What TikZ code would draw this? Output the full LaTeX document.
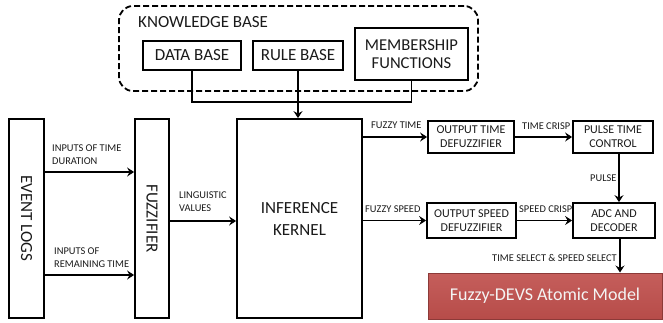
\documentclass[tikz,border=0pt]{standalone}
\usepackage{fontspec}
\setmainfont{Carlito}
\usetikzlibrary{arrows.meta}
\definecolor{devsred}{HTML}{C0504D}
\definecolor{devsedge}{HTML}{8C3A38}
\definecolor{devstxt}{HTML}{F4F4F4}
\definecolor{inkgray}{HTML}{1A1A1A}
\begin{document}
\begin{tikzpicture}[x=1pt,y=-1pt,
  box/.style={draw=black,line width=1.8pt,inner sep=0pt,align=center,text=inkgray},
  big/.style={font=\fontsize{17}{19}\selectfont},
  mid/.style={font=\fontsize{12}{14}\selectfont},
  lab/.style={font=\fontsize{10.4}{13}\selectfont,inner sep=0pt,align=left,text=inkgray},
  ln/.style={line width=1.8pt},
  arr/.style={line width=1.8pt,-{Stealth[length=7pt,width=9pt,inset=2.5pt]}}]
\useasboundingbox (0,0) rectangle (663,322);
% knowledge base
\node[draw=black,line width=1.8pt,dash pattern=on 6pt off 3pt,rounded corners=14pt,
      minimum width=359pt,minimum height=85pt,inner sep=0pt] (kb) at (298.5,48.5) {};
\node[big,anchor=west,inner sep=0pt,text=inkgray] (kbt) at (138,22) {KNOWLEDGE BASE};
\node[box,big,minimum width=98pt,minimum height=29pt] (db) at (192,55.5) {DATA BASE};
\node[box,big,minimum width=90pt,minimum height=29pt] (rb) at (298,55.5) {RULE BASE};
\node[box,big,minimum width=113pt,minimum height=52pt,font=\fontsize{16.6}{18}\selectfont] (mf) at (411.5,54) {MEMBERSHIP\\FUNCTIONS};
% main blocks
\node[box,minimum width=35pt,minimum height=199pt] (el) at (26.5,218.5) {};
\node[big,rotate=-90,text=inkgray] (elt) at (el.center) {EVENT LOGS};
\node[box,minimum width=34pt,minimum height=199pt] (fz) at (152,218.5) {};
\node[big,rotate=-90,text=inkgray] (fzt) at (fz.center) {FUZZIFIER};
\node[box,big,minimum width=125pt,minimum height=199pt,font=\fontsize{17}{22}\selectfont] (ik) at (299.5,218.5) {INFERENCE\\KERNEL};
\node[box,mid,minimum width=86pt,minimum height=32pt] (otd) at (471,137) {OUTPUT TIME\\DEFUZZIFIER};
\node[box,mid,minimum width=80pt,minimum height=32pt] (ptc) at (613,137) {PULSE TIME\\CONTROL};
\node[box,mid,minimum width=89pt,minimum height=35pt] (osd) at (471.5,220.5) {OUTPUT SPEED\\DEFUZZIFIER};
\node[box,mid,minimum width=82pt,minimum height=35pt] (adc) at (614,220.5) {ADC AND\\DECODER};
\node[draw=devsedge,line width=1pt,top color=devsred!92!white,bottom color=devsred!95!black,text=devstxt,
      minimum width=234pt,minimum height=46pt,inner sep=0pt,font=\fontsize{18}{20}\selectfont] (fd) at (545,296) {Fuzzy-DEVS Atomic Model};
% knowledge base connectors
\draw[ln] (db.south) -- ++(0,31) -| (mf.south);
\draw[arr] (rb.south) -- (rb.south |- ik.north);
% event logs to fuzzifier
\coordinate (y1) at (0,172);
\coordinate (y2) at (0,275);
\coordinate (y3) at (0,221);
\draw[arr] (el.east |- y1) -- (fz.west |- y1);
\draw[arr] (el.east |- y2) -- (fz.west |- y2);
\draw[arr] (fz.east |- y3) -- (ik.west |- y3);
\node[lab,anchor=west] (l1) at (52,154.5) {INPUTS OF TIME\\DURATION};
\node[lab,anchor=west] (l2) at (54,257.5) {INPUTS OF\\REMAINING TIME};
\node[lab,anchor=west] (l3) at (179,201.5) {LINGUISTIC\\VALUES};
% outputs
\draw[arr] (ik.east |- otd.west) -- (otd.west);
\draw[arr] (otd.east) -- (ptc.west);
\draw[arr] (ik.east |- osd.west) -- (osd.west);
\draw[arr] (osd.east) -- (adc.west);
\draw[arr] ([xshift=6pt]ptc.south) -- ([xshift=6pt]ptc.south |- adc.north);
\draw[arr] ([xshift=6pt]adc.south) -- ([xshift=6pt]adc.south |- fd.north);
\node[lab,anchor=west] (l4) at (371,125) {FUZZY TIME};
\node[lab,anchor=west] (l5) at (522,126) {TIME CRISP};
\node[lab,anchor=west] (l6) at (590,178) {PULSE};
\node[lab,anchor=west] (l7) at (365,209) {FUZZY SPEED};
\node[lab,anchor=west] (l8) at (519,209) {SPEED CRISP};
\node[lab,anchor=east] (l9) at (617,258) {TIME SELECT \& SPEED SELECT};
\end{tikzpicture}
\end{document}
